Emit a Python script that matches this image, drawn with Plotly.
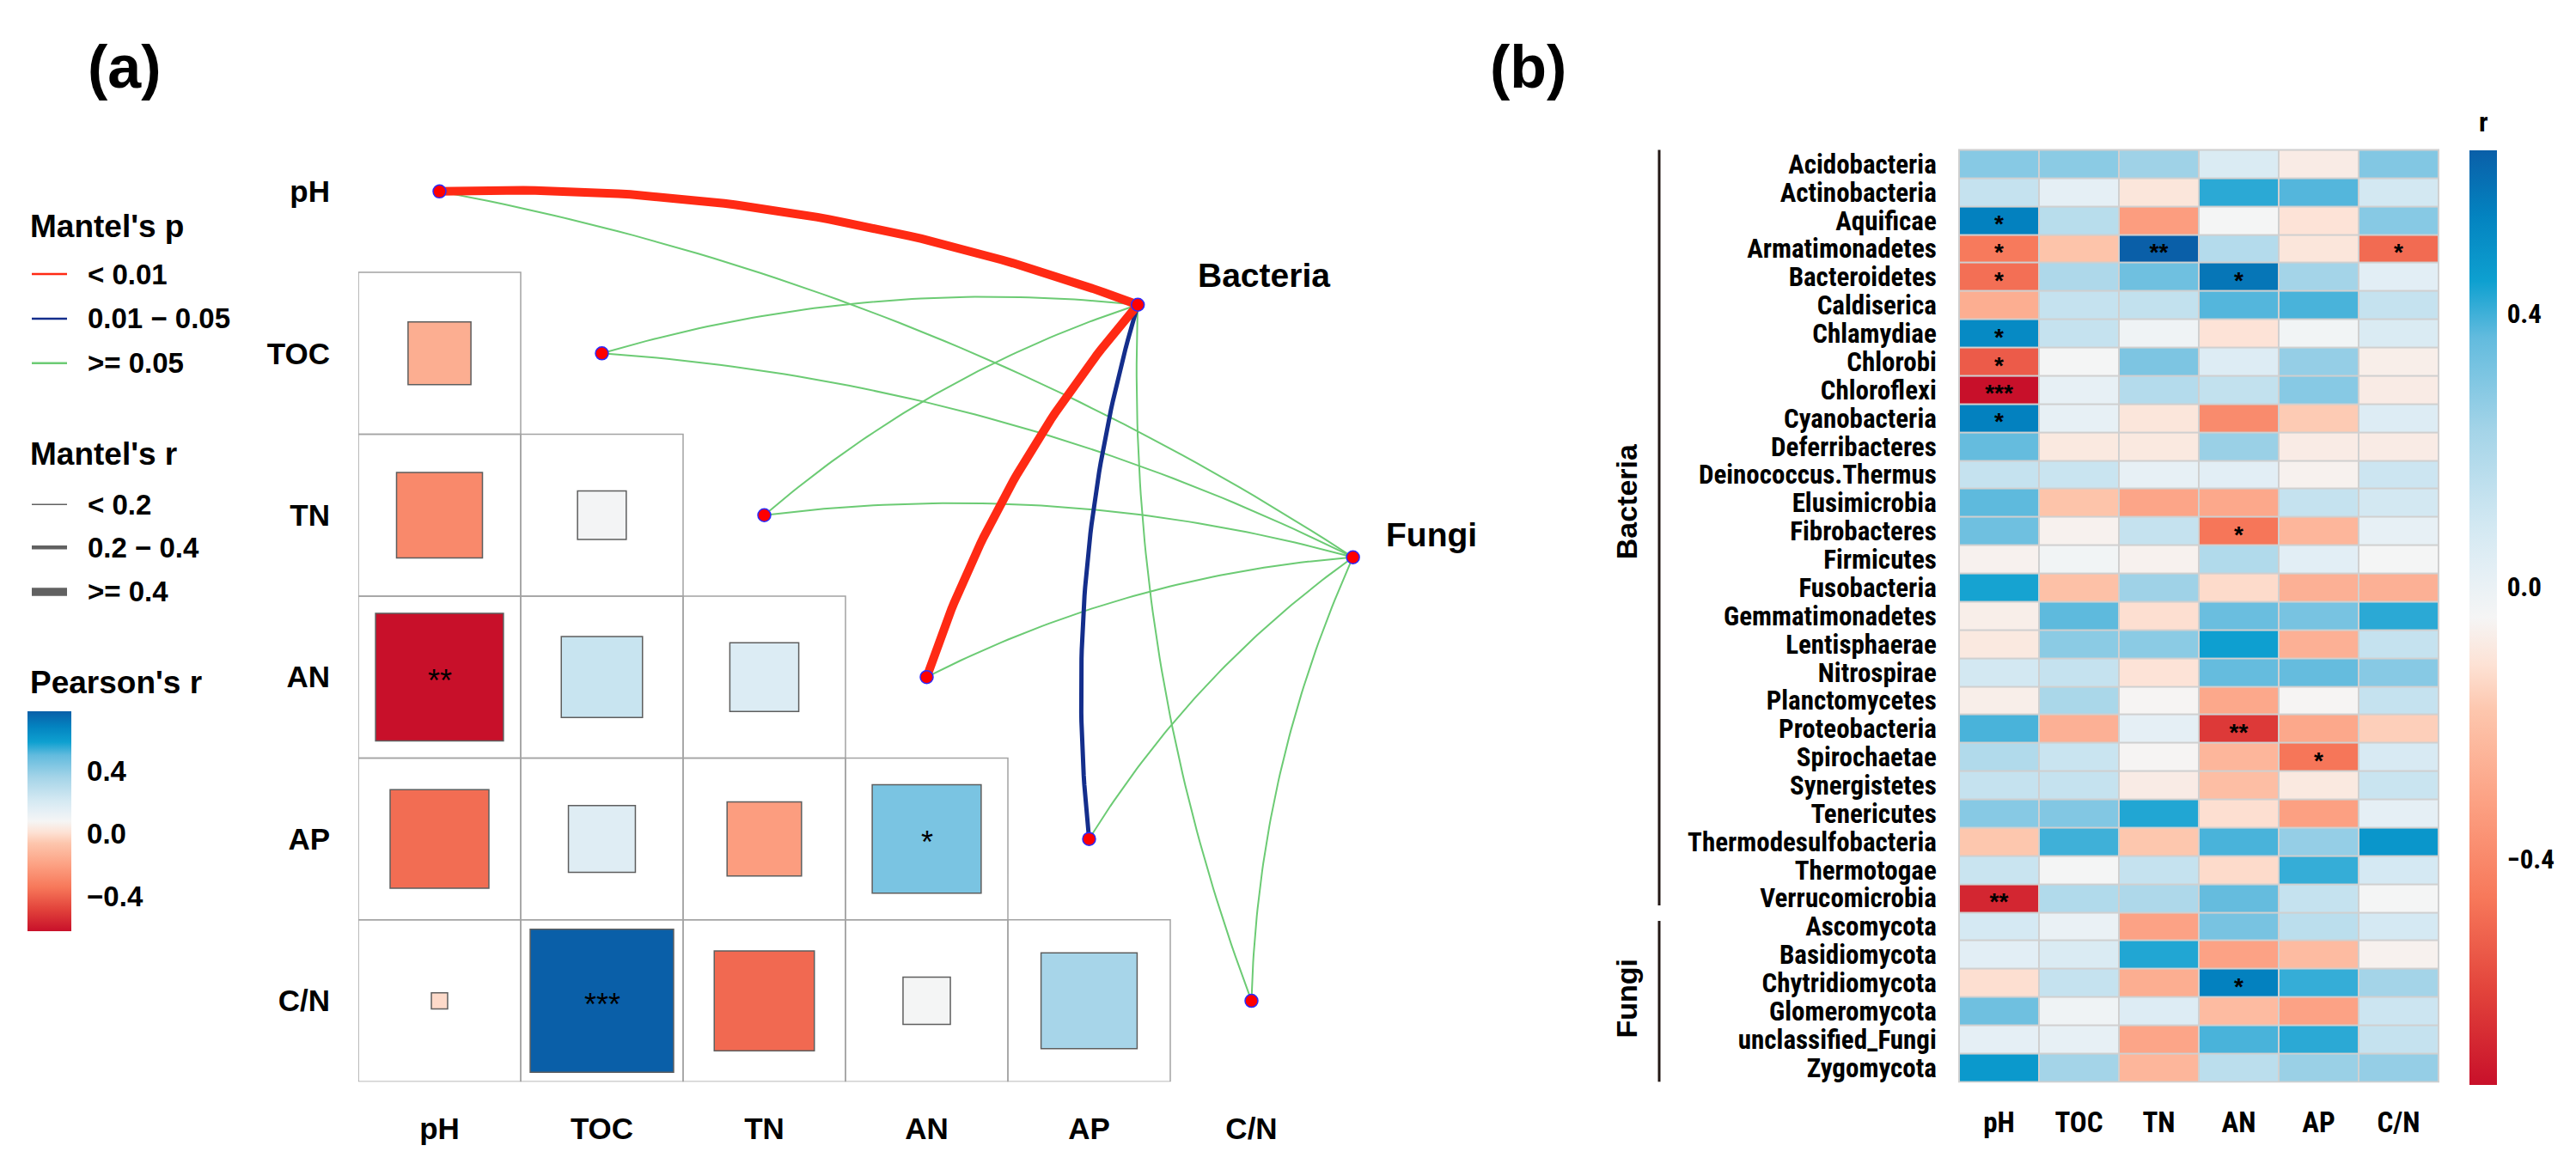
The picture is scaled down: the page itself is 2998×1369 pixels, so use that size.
import plotly.graph_objects as go
from plotly.colors import sample_colorscale

W, H = 2998, 1369
OFF = 8  # page margin of the html body
FW, FH = W - 2 * OFF, H - 2 * OFF

env = ["pH", "TOC", "TN", "AN", "AP", "C/N"]

# (a) Pearson's r among soil properties, lower triangle (row variable vs column variable)
pear_row = ["TOC", "TN", "TN", "AN", "AN", "AN", "AP", "AP", "AP", "AP", "C/N", "C/N", "C/N", "C/N", "C/N"]
pear_col = ["pH", "pH", "TOC", "pH", "TOC", "TN", "pH", "TOC", "TN", "AN", "pH", "TOC", "TN", "AN", "AP"]
pear_r = [-0.15, -0.28, 0.09, -0.62, 0.25, 0.18, -0.37, 0.17, -0.21, 0.45, -0.01, 0.78, -0.38, 0.085, 0.35]
pear_sig = ["", "", "", "**", "", "", "", "", "", "*", "", "***", "", "", ""]

# (a) Mantel test links between communities and soil properties
mantel_spec = ["Bacteria"] * 6 + ["Fungi"] * 6
mantel_env = env + env
mantel_p = ["< 0.01", ">= 0.05", ">= 0.05", "< 0.01", "0.01 - 0.05", ">= 0.05"] + [">= 0.05"] * 6
mantel_r = [">= 0.4", "< 0.2", "< 0.2", ">= 0.4", "0.2 - 0.4", "< 0.2"] + ["< 0.2"] * 6

# (b) correlation of phyla with soil properties
taxa = ["Acidobacteria", "Actinobacteria", "Aquificae", "Armatimonadetes", "Bacteroidetes",
        "Caldiserica", "Chlamydiae", "Chlorobi", "Chloroflexi", "Cyanobacteria",
        "Deferribacteres", "Deinococcus.Thermus", "Elusimicrobia", "Fibrobacteres", "Firmicutes",
        "Fusobacteria", "Gemmatimonadetes", "Lentisphaerae", "Nitrospirae", "Planctomycetes",
        "Proteobacteria", "Spirochaetae", "Synergistetes", "Tenericutes", "Thermodesulfobacteria",
        "Thermotogae", "Verrucomicrobia", "Ascomycota", "Basidiomycota", "Chytridiomycota",
        "Glomeromycota", "unclassified_Fungi", "Zygomycota"]
r_pH = [0.29, 0.13, 0.55, -0.45, -0.48, -0.27, 0.52, -0.53, -0.73, 0.55, 0.36, 0.13, 0.37, 0.34, -0.06,
        0.44, -0.07, -0.09, 0.09, -0.07, 0.39, 0.19, 0.13, 0.29, -0.18, 0.12, -0.67, 0.08, 0.03, -0.12,
        0.34, 0.02, 0.47]
r_TOC = [0.28, 0.02, 0.17, -0.19, 0.20, 0.13, 0.13, -0.04, 0.01, 0.01, -0.09, 0.12, -0.19, -0.06, -0.03,
         -0.20, 0.37, 0.28, 0.13, 0.21, -0.26, 0.12, 0.13, 0.30, 0.40, -0.04, 0.19, 0.00, 0.06, 0.13,
         -0.02, 0.01, 0.23]
r_TN = [0.24, -0.10, -0.33, 0.64, 0.34, 0.14, -0.02, 0.31, 0.18, -0.10, -0.09, 0.01, -0.30, 0.13, -0.06,
        0.24, -0.12, 0.28, -0.11, -0.05, 0.02, -0.05, -0.08, 0.43, -0.18, 0.13, 0.20, -0.31, 0.43, -0.27,
        0.05, -0.30, -0.24]
r_AN = [0.06, 0.42, -0.04, 0.18, 0.58, 0.38, -0.11, 0.05, 0.14, -0.39, 0.25, 0.03, -0.29, -0.46, 0.19,
        -0.13, 0.35, 0.45, 0.36, -0.29, -0.62, -0.24, -0.21, -0.12, 0.39, -0.13, 0.36, 0.32, -0.31, 0.55,
        -0.22, 0.39, 0.16]
r_AP = [-0.08, 0.38, -0.11, -0.10, 0.23, 0.39, -0.03, 0.26, 0.29, -0.17, -0.08, -0.06, 0.13, -0.24, 0.03,
        -0.26, 0.32, -0.26, 0.36, -0.05, -0.29, -0.46, -0.09, -0.32, 0.26, 0.41, 0.13, 0.16, -0.22, 0.41,
        -0.31, 0.42, 0.25]
r_CN = [0.30, 0.09, 0.29, -0.49, 0.03, 0.13, 0.06, -0.07, -0.08, 0.05, -0.08, 0.11, 0.09, 0.01, -0.04,
        -0.26, 0.42, 0.13, 0.29, 0.13, -0.16, 0.07, 0.12, 0.02, 0.48, 0.08, -0.04, 0.08, -0.06, 0.23,
        0.11, 0.13, 0.26]
sig_taxon = ["Aquificae", "Armatimonadetes", "Armatimonadetes", "Armatimonadetes", "Bacteroidetes",
             "Bacteroidetes", "Chlamydiae", "Chlorobi", "Chloroflexi", "Cyanobacteria", "Fibrobacteres",
             "Proteobacteria", "Spirochaetae", "Verrucomicrobia", "Chytridiomycota"]
sig_var = ["pH", "pH", "TN", "C/N", "pH", "AN", "pH", "pH", "pH", "pH", "AN", "AN", "AP", "pH", "AN"]
sig_mark = ["*", "*", "**", "*", "*", "*", "*", "*", "***", "*", "*", "**", "*", "**", "*"]
groups = ["Bacteria", "Fungi"]
group_size = [27, 6]

# palette (fraction of data range -> colour)
palette = [[0.0, "#C8102A"], [0.1, "#E2433B"], [0.2, "#F7785A"], [0.3, "#FCA082"],
           [0.4, "#FDC6AD"], [0.45, "#FDE2D5"], [0.5, "#F5F5F5"], [0.55, "#E4EFF5"],
           [0.6, "#D2E8F2"], [0.7, "#A4D4E8"], [0.8, "#62BBDE"], [0.86, "#0EA0D0"],
           [0.93, "#0383C0"], [1.0, "#0A5FA8"]]

FA = "Liberation Sans, Arial, sans-serif"
FN = ("Nimbus Sans Narrow, Roboto Condensed, Noto Sans Condensed, Liberation Sans Narrow, "
      "DejaVu Sans Condensed, sans-serif")
p_col = {"< 0.01": "#FF2A14", "0.01 - 0.05": "#142E8C", ">= 0.05": "#6CCB74"}
r_wid = {"< 0.2": 2, "0.2 - 0.4": 5, ">= 0.4": 10}


def px_x(v):
    return (v - OFF) / FW


def px_y(v):
    return 1 - (v - OFF) / FH


fig = go.Figure()

# ---------- panel (a) ----------
cell = 189.0
grid_left, grid_top0, grid_bottom, a_right = 417, 127, 1261, 1799
node_pos = {"Bacteria": (4.80, 1.20), "Fungi": (6.125, 2.76)}

shapes = []
annos = []

for i in range(1, 6):
    for j in range(i):
        shapes.append(dict(type="rect", xref="x", yref="y", x0=j, x1=j + 1, y0=i, y1=i + 1,
                           line=dict(color="#A3A3A3", width=1.5), fillcolor="rgba(0,0,0,0)"))

pmin, pmax = min(pear_r), max(pear_r)
for rr, cc, v, s in zip(pear_row, pear_col, pear_r, pear_sig):
    i, j = env.index(rr), env.index(cc)
    col = sample_colorscale(palette, [(v - pmin) / (pmax - pmin)])[0]
    h = 0.5 * abs(v) ** 0.5
    shapes.append(dict(type="rect", xref="x", yref="y", x0=j + 0.5 - h, x1=j + 0.5 + h,
                       y0=i + 0.5 - h, y1=i + 0.5 + h, fillcolor=col,
                       line=dict(color="#5E5E5E", width=1.5)))
    if s:
        annos.append(dict(x=j + 0.5, y=i + 0.5, xref="x", yref="y", text=s, showarrow=False,
                          xanchor="center", yanchor="middle", yshift=-4,
                          font=dict(family=FA, size=36, color="black")))

# curved Mantel links (bowing to the left of env -> community)
order = sorted(range(len(mantel_env)), key=lambda k: r_wid[mantel_r[k]])
for k in order:
    k_env = env.index(mantel_env[k])
    x0, y0 = k_env + 0.5, k_env + 0.5
    x1, y1 = node_pos[mantel_spec[k]]
    dx, dy = x1 - x0, y1 - y0
    cx, cy = (x0 + x1) / 2 + 0.1 * dy, (y0 + y1) / 2 - 0.1 * dx
    ts = [t / 60 for t in range(61)]
    xs = [(1 - t) ** 2 * x0 + 2 * (1 - t) * t * cx + t ** 2 * x1 for t in ts]
    ys = [(1 - t) ** 2 * y0 + 2 * (1 - t) * t * cy + t ** 2 * y1 for t in ts]
    fig.add_trace(go.Scatter(x=xs, y=ys, mode="lines", xaxis="x", yaxis="y", showlegend=False,
                             hoverinfo="skip",
                             line=dict(color=p_col[mantel_p[k]], width=r_wid[mantel_r[k]])))

nx = [i + 0.5 for i in range(6)] + [node_pos[g][0] for g in groups]
ny = [i + 0.5 for i in range(6)] + [node_pos[g][1] for g in groups]
fig.add_trace(go.Scatter(x=nx, y=ny, mode="markers", xaxis="x", yaxis="y", showlegend=False,
                         cliponaxis=False,
                         marker=dict(size=15, color="#FF0000", line=dict(color="#2A2AFF", width=1.5))))

for g, xs_, ys_ in zip(groups, [68, 36], [34, 26]):
    annos.append(dict(x=node_pos[g][0], y=node_pos[g][1], xref="x", yref="y",
                      text=g, showarrow=False, xanchor="left", yanchor="middle",
                      xshift=xs_, yshift=ys_,
                      font=dict(family=FA, size=39, color="black", weight="bold")))

# colorbar holder for Pearson's r
fig.add_trace(go.Scatter(x=[None], y=[None], mode="markers", xaxis="x", yaxis="y", showlegend=False,
                         marker=dict(color=[pmin, pmax], cmin=pmin, cmax=pmax, colorscale=palette,
                                     showscale=True,
                                     colorbar=dict(x=px_x(32), xanchor="left", xpad=0,
                                                   y=px_y(828), yanchor="top", ypad=0,
                                                   len=256, lenmode="pixels", thickness=51,
                                                   outlinewidth=0, ticks="outside", ticklen=12,
                                                   tickcolor="rgba(0,0,0,0)",
                                                   tickvals=[-0.4, 0, 0.4],
                                                   ticktext=["\u22120.4", "0.0", "0.4"],
                                                   tickfont=dict(family=FA, size=33, color="black",
                                                                 weight="bold")))))


# legend for Mantel's p / r
def legend_title(text, yy):
    annos.append(dict(x=px_x(33), y=px_y(yy), xref="paper", yref="paper", text=text,
                      showarrow=False, xanchor="left", yanchor="middle",
                      font=dict(family=FA, size=37, color="black", weight="bold")))


def legend_item(text, yy, color, width):
    shapes.append(dict(type="line", xref="paper", yref="paper", x0=px_x(37), x1=px_x(78),
                       y0=px_y(yy), y1=px_y(yy), line=dict(color=color, width=width)))
    annos.append(dict(x=px_x(100), y=px_y(yy), xref="paper", yref="paper",
                      text=text.replace(" - ", " \u2212 "), showarrow=False, xanchor="left",
                      yanchor="middle", font=dict(family=FA, size=33, color="black", weight="bold")))


legend_title("Mantel's p", 262)
for lab, yy in zip(["< 0.01", "0.01 - 0.05", ">= 0.05"], [318, 370, 422]):
    legend_item(lab, yy, p_col[lab], 2.5)
legend_title("Mantel's r", 528)
for lab, yy in zip(["< 0.2", "0.2 - 0.4", ">= 0.4"], [587, 637, 689]):
    legend_item(lab, yy, "#616161", r_wid[lab] - 0.5)
legend_title("Pearson's r", 795)

# panel labels
for lab, xx in zip(["(a)", "(b)"], [145, 1778]):
    annos.append(dict(x=px_x(xx), y=px_y(76), xref="paper", yref="paper", text=lab, showarrow=False,
                      xanchor="center", yanchor="middle",
                      font=dict(family=FA, size=70, color="black", weight="bold")))

# ---------- panel (b) ----------
hm_l, hm_r, hm_t, hm_b = 2280, 2838, 173, 1261
cols = [r_pH, r_TOC, r_TN, r_AN, r_AP, r_CN]
z = [[c[i] for c in cols] for i in range(len(taxa))]
zall = [v for row in z for v in row]
xi = list(range(len(env)))
yi = list(range(len(taxa)))

fig.add_trace(go.Heatmap(z=z, x=xi, y=yi, xaxis="x2", yaxis="y2",
                         colorscale=palette, zmin=min(zall), zmax=max(zall), xgap=2, ygap=2,
                         colorbar=dict(x=px_x(2874), xanchor="left", xpad=0, y=px_y(hm_t),
                                       yanchor="top", ypad=0, len=hm_b - hm_t, lenmode="pixels",
                                       thickness=32, outlinewidth=0, ticks="outside", ticklen=6,
                                       tickcolor="rgba(0,0,0,0)", tickvals=[-0.4, 0, 0.4],
                                       ticktext=["\u22120.4", "0.0", "0.4"],
                                       tickfont=dict(family=FN, size=31, color="black", weight="bold"))))
# significance stars, nudged down so the glyph sits mid-cell
fig.add_trace(go.Scatter(x=[env.index(v) for v in sig_var],
                         y=[taxa.index(t) + 0.2 for t in sig_taxon],
                         text=sig_mark, mode="text", xaxis="x2", yaxis="y2", showlegend=False,
                         hoverinfo="skip", textposition="middle center",
                         textfont=dict(family=FA, size=28, color="black", weight="bold")))
shapes.append(dict(type="rect", xref="paper", yref="paper", x0=px_x(hm_l - 1), x1=px_x(hm_r + 1),
                   y0=px_y(hm_b + 1), y1=px_y(hm_t - 1), fillcolor="#D0D0D0", line=dict(width=0),
                   layer="below"))
annos.append(dict(x=px_x(2890), y=px_y(140), xref="paper", yref="paper", text="r", showarrow=False,
                  xanchor="center", yanchor="middle",
                  font=dict(family=FN, size=32, color="black", weight="bold")))

# group brackets
row_h = (hm_b - hm_t) / len(taxa)
label_mid = [584, 1164]
start = 0
for g, n, lm in zip(groups, group_size, label_mid):
    y0 = hm_t + start * row_h + (0 if start == 0 else 10)
    y1 = hm_t + (start + n) * row_h - (8 if start == 0 else 0)
    shapes.append(dict(type="line", xref="paper", yref="paper", x0=px_x(1931), x1=px_x(1931),
                       y0=px_y(y0), y1=px_y(y1), line=dict(color="#231815", width=3)))
    annos.append(dict(x=px_x(1893), y=px_y(lm), xref="paper", yref="paper", text=g,
                      textangle=-90, showarrow=False, xanchor="center", yanchor="middle",
                      font=dict(family=FA, size=34, color="black", weight="bold")))
    start += n

fig.update_layout(
    width=FW, height=FH, margin=dict(l=0, r=0, t=0, b=0),
    paper_bgcolor="white", plot_bgcolor="rgba(0,0,0,0)",
    shapes=shapes, annotations=annos, showlegend=False,
    xaxis=dict(domain=[px_x(grid_left), px_x(a_right)], range=[0, (a_right - grid_left) / cell],
               showgrid=False, zeroline=False, showline=False,
               tickvals=[i + 0.5 for i in range(6)], ticktext=env,
               ticks="outside", ticklen=24, tickcolor="rgba(0,0,0,0)",
               tickfont=dict(family=FA, size=35, color="black", weight="bold")),
    yaxis=dict(domain=[px_y(grid_bottom), 1], range=[6, (OFF - grid_top0) / cell],
               showgrid=False, zeroline=False, showline=False,
               tickvals=[i + 0.5 for i in range(6)], ticktext=env,
               ticks="outside", ticklen=25, tickcolor="rgba(0,0,0,0)",
               tickfont=dict(family=FA, size=35, color="black", weight="bold")),
    xaxis2=dict(domain=[px_x(hm_l), px_x(hm_r)], anchor="y2", range=[-0.5, len(env) - 0.5],
                showgrid=False, zeroline=False, tickmode="array", tickvals=xi, ticktext=env,
                ticks="outside", ticklen=18, tickcolor="rgba(0,0,0,0)",
                tickfont=dict(family=FN, size=33, color="black", weight="bold")),
    yaxis2=dict(domain=[px_y(hm_b), px_y(hm_t)], anchor="x2", range=[len(taxa) - 0.5, -0.5],
                showgrid=False, zeroline=False, ticks="outside", ticklen=19,
                tickcolor="rgba(0,0,0,0)", tickmode="array", tickvals=yi, ticktext=taxa,
                tickfont=dict(family=FN, size=31, color="black", weight="bold")),
)

fig.write_html("out.html")
